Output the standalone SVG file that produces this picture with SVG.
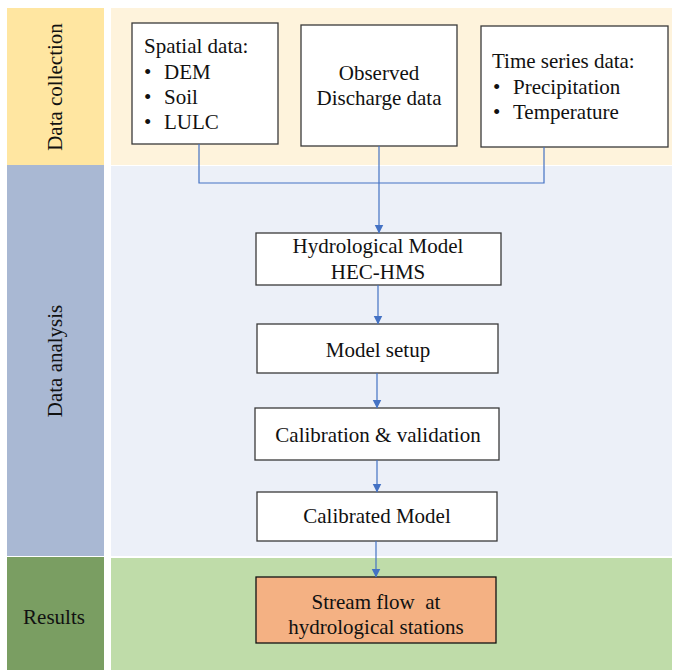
<svg xmlns="http://www.w3.org/2000/svg" width="675" height="671" viewBox="0 0 675 671">
<defs>
<style>
text{font-size:21px;fill:#111;white-space:pre}
.box{fill:#fff;stroke:#3a3a3a;stroke-width:1.3}
.c{text-anchor:middle}
.conn{fill:none;stroke:#4472C4;stroke-width:1.2}
</style>
<marker id="ah" markerWidth="9" markerHeight="10" refX="8.5" refY="4.5" orient="auto" markerUnits="userSpaceOnUse">
<path d="M0,0 L9,4.5 L0,9 Z" fill="#4472C4"/>
</marker>
</defs>
<g font-family="'Liberation Serif', 'Times New Roman', 'DejaVu Serif', serif">
<rect width="675" height="671" fill="#fff"/>
<g id="bands">
<rect x="7" y="8" width="97" height="157" fill="#FFE6A1"/>
<rect x="7" y="165" width="97" height="391" fill="#A9B8D3"/>
<rect x="7" y="557" width="97" height="113" fill="#7A9E62"/>
<rect x="111" y="8" width="561" height="157" fill="#FEF3DC"/>
<rect x="111" y="166" width="561" height="390" fill="#ECF0F8"/>
<rect x="111" y="558" width="561" height="112" fill="#BFDCA9"/>
<text class="c" transform="translate(62,87) rotate(-90)">Data collection</text>
<text class="c" transform="translate(62,361) rotate(-90)">Data analysis</text>
<text class="c" x="54" y="624">Results</text>
</g>
<g id="spatial">
<rect class="box" x="132" y="23" width="146" height="121"/>
<text x="144" y="53">Spatial data:</text>
<text x="144" y="79">•</text><text x="164" y="79">DEM</text>
<text x="144" y="104">•</text><text x="164" y="104">Soil</text>
<text x="144" y="129">•</text><text x="164" y="129">LULC</text>
</g>
<g id="observed">
<rect class="box" x="301" y="25" width="156" height="121"/>
<text class="c" x="379" y="80">Observed</text>
<text class="c" x="379" y="105">Discharge data</text>
</g>
<g id="timeseries">
<rect class="box" x="481" y="26" width="187" height="121"/>
<text x="492" y="68">Time series data:</text>
<text x="493" y="94">•</text><text x="513" y="94">Precipitation</text>
<text x="493" y="119">•</text><text x="513" y="119">Temperature</text>
</g>
<g id="hydro">
<rect class="box" x="256" y="233" width="245" height="52"/>
<text class="c" x="378" y="253">Hydrological Model</text>
<text class="c" x="378" y="279">HEC-HMS</text>
</g>
<g id="setup">
<rect class="box" x="257" y="324" width="241" height="49"/>
<text class="c" x="378" y="357">Model setup</text>
</g>
<g id="calib">
<rect class="box" x="255" y="408" width="244" height="52"/>
<text class="c" x="378" y="442">Calibration &amp; validation</text>
</g>
<g id="calibrated">
<rect class="box" x="257" y="492" width="240" height="49"/>
<text class="c" x="377" y="523">Calibrated Model</text>
</g>
<g id="streamflow">
<rect x="256" y="577" width="240" height="66" fill="#F4B183" stroke="#111" stroke-width="1.3"/>
<text class="c" x="376" y="609">Stream flow  at</text>
<text class="c" x="376" y="634">hydrological stations</text>
</g>
<g id="connectors">
<polyline class="conn" points="199,144 199,183 544,183 544,147"/>
<line class="conn" x1="379" y1="146" x2="379" y2="233" marker-end="url(#ah)"/>
<line class="conn" x1="378" y1="285" x2="378" y2="324" marker-end="url(#ah)"/>
<line class="conn" x1="377" y1="373" x2="377" y2="408" marker-end="url(#ah)"/>
<line class="conn" x1="377" y1="460" x2="377" y2="492" marker-end="url(#ah)"/>
<line class="conn" x1="376" y1="541" x2="376" y2="577" marker-end="url(#ah)"/>
</g>
</g>
</svg>
